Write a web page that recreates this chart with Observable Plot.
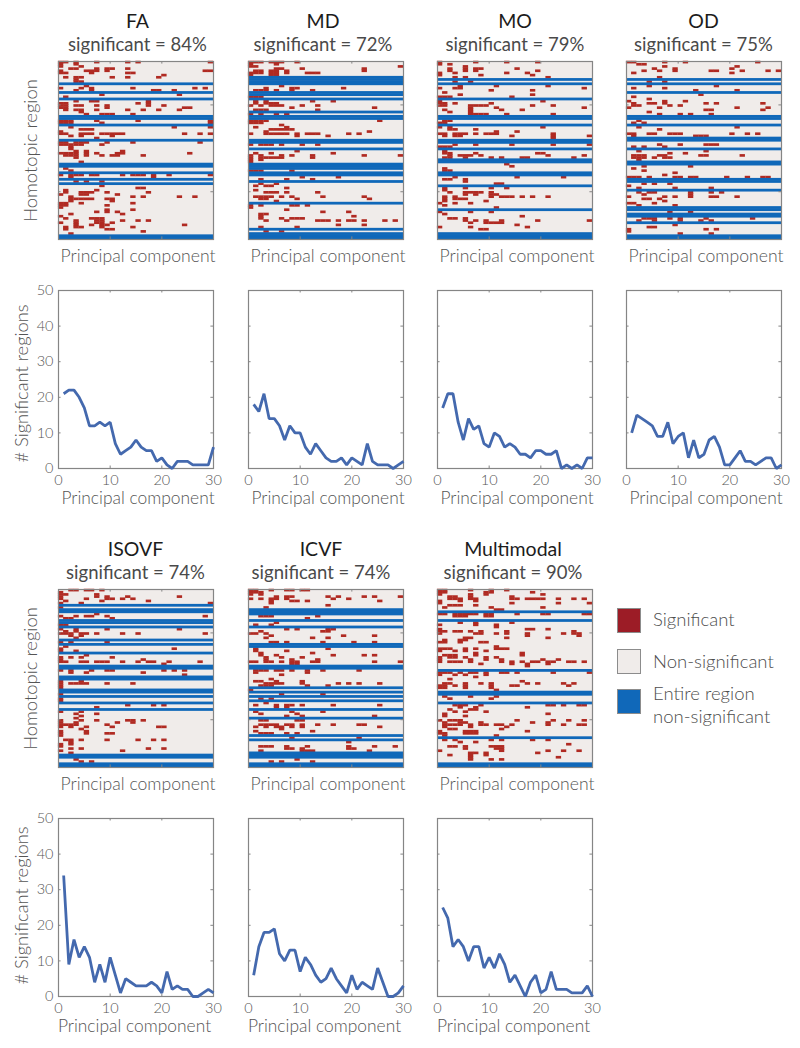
<!DOCTYPE html>
<html>
<head>
<meta charset="utf-8">
<script src="https://cdn.jsdelivr.net/npm/d3@7"></script>
<script src="https://cdn.jsdelivr.net/npm/@observablehq/plot@0.6"></script>
<style>
html,body{margin:0;padding:0;background:#fff}
#page{position:relative;width:800px;height:1048px;overflow:hidden;font-family:Lato,"Noto Sans",sans-serif;font-weight:300;color:#555}
#page svg{position:absolute;overflow:visible;background:transparent}
.ttl{position:absolute;width:200px;text-align:center;line-height:1}
.ttl .a{font-size:19.5px;font-weight:400;color:#1c1c1c;display:block;height:24px}
.ttl .b{font-size:18.5px;font-weight:400;color:#4a4a4a;display:block}
.sw{position:absolute;left:617px;width:22px;height:23px;border:1px solid #8c8c8c;box-sizing:content-box}
.lg{position:absolute;left:653px;font-size:18.5px;font-weight:300;line-height:1;color:#4d4d4d;white-space:nowrap}
</style>
</head>
<body>
<div id="page"></div>
<script>
const nRows = 82, nCols = 30;
const components = d3.range(1, 31);

// Each row entry: [region row, then the significant component columns]
const faBlue = [10,14,17,25,26,29,36,47,48,51,54,56,80,81];
const faSig = [[0,0,1,3,7,13,15,29],[1,0,3],[2,0,4],[3,2,3,7,9,10,13],[4,0,5,6,7,9,28,29],[5,0,1,6,13,14],[6,20],[7,1,3,4,10,13,19],[8,3],[9,3,4],[11,5],[12,0,4,6,14,26,28],[13,3,6,18,19,22],[15,8,23],[16,1],[18,3,6,7,17],[19,0,1,15,17],[20,0,1,3,4,7,9,17,20],[21,0,1,9,24,25],[22,1,3,4,7,13,16,19,23],[23,4],[24,5,8,9,10,14],[27,0,1,2,7,15,29],[28,0,1,2,8,29],[30,2,22,29],[31,4,5,6],[32,0],[33,0,1,4,5,6,8,9,10,11,12,24,27,29],[34,2,4,10],[35,7],[37,0,1,3,4,5,9,14,27],[38,0,1,2,3,4,8],[39,2],[40,2],[41,3,5,12],[42,0,1,2,3,5,7,11,12,25],[43,1,2,3,5,8,10,11,16],[44,3],[46,4],[49,1],[50,2],[52,0,2,3,4,6,7,12,14,15,16,18,21,29],[53,2,18],[55,3,5,8],[57,8],[58,15,16],[59,1,7],[60,1,4,5,6,9,17],[61,0,4,5,11],[62,2,14,16,23,26],[63,2,3,4,5,6,9,10],[64,2,10],[65,0,1,4,14],[66,0,1,9],[67,0],[68,9,14],[69,7,9,11],[70,2,12],[71,0],[72,1,6,7,8],[73,3,7,8,12,15,17],[74,0,3,7,8,10],[75,3,6,8,9,24],[76,1,3,4,8,14],[77,1,9,10],[78,16],[79,2]];

const mdBlue = [7,8,9,10,14,15,17,23,25,26,36,37,40,47,48,49,51,52,55,65,77,79,80,81];
const mdSig = [[0,0,1,2,4,5,6,9],[1,0,5],[2,0,1,29],[3,5,6,10,22],[4,1,2,4,5,7,22],[5,0,1,2,4,5,7,11,12,13],[6,0,4,5],[11,6],[12,3,8,9,18],[13,1,2,3,5,8,12],[16,0,1,2],[18,1,3,12,16],[19,1,3,4,5],[20,0,2,4,5,6,10,13],[21,8,24],[22,1,2,3,13],[24,0,2,5,7],[27,0,1,2,3,25],[28,0,1,2],[29,6],[30,1,7],[31,4,5,6,7,8],[32,3,23],[33,0,3,4,5,6,7,9,11,12,13,19,21],[34,9,15],[38,0,2,3,4,6,10,13],[41,9],[42,1,4,16],[43,0,2,6,8,12,22,29],[44,0,2,3,4,5,6,12],[45,0,2],[46,0],[50,0,1,2,8],[53,10,17],[54,2,7,12],[56,2,5],[57,1,3,4],[58,7],[59,1],[60,3,4,5,7,13],[62,1,2,3,4,6,8,14,22],[63,2,3,9,23],[64,5],[66,0,2,8,9,11],[67,0],[68,7],[69,14,19],[70,2,3],[71,2,20],[72,2,6,8,9,10],[73,3,7,13,14,15,17,19,20,22,26,28],[75,17,22],[76,2,9],[78,3,6]];

const moBlue = [8,10,17,25,26,29,36,37,40,45,46,51,52,57,68,79,80,81];
const moSig = [[0,0,7,13,19],[1,0,2],[2,5],[3,2,5,7,8,15],[4,2,5,7,19],[5,0,3,13,17],[6,0,8,18],[7,3,5,21],[9,3,6],[11,4,11,21],[12,0,3,4,28],[13,10,18],[14,1],[15,4,18],[16,0,1,2,14],[18,0,20],[19,0,1,3,10],[20,0,1,6,7,8,9,18,22],[21,6,11,28],[22,1,6,12,16],[23,2,6],[24,6,7,8,9,13,22],[27,1,2],[28,0,1],[30,0,2,20],[31,2,3,7],[32,11,15],[33,0,1,3,4,5,7,9,10,11,22],[34,1,3,4,14,22,29],[35,22],[38,3,7,14,22,29],[39,0,1,2],[41,1],[42,1,2,7,19,20],[43,2,4,5,6,8,21,28],[44,1,2,5,10,12,16,17,26],[47,13],[48,14],[49,1],[50,1,2],[53,3,15,24],[54,1,2,5],[55,5],[56,11,12],[58,1,5,10,13],[59,1],[60,2,5,6,7,8,10],[61,5,7,10,11],[62,1,3,10,12,13,14,16,18,21],[63,1,3,4,5],[64,1,9],[65,0,3,6],[66,1],[67,11],[69,0,6,10],[70,1],[71,16],[72,2,3,5],[73,5,7,9,12,19,29],[74,6,9,10,11,12],[75,15],[76,0,6,17],[77,8,9]];

const odBlue = [8,10,14,25,26,29,35,36,40,46,47,54,55,59,67,68,70,71,74,80,81];
const odSig = [[0,0,1,7,11,25],[1,2,3],[2,7,21],[3,5,9,20],[4,3,6,9,16,17,22,27,29],[5,1,20],[7,6],[9,4,7],[11,4,17],[12,1,7],[13,13,21],[15,14],[16,1],[17,4],[18,0,7,11],[19,1,4,5,7,15,17,26],[20,1,2,8,10],[21,0,6,21,27],[22,15,16,26],[23,4],[24,6,10,12,16],[27,2],[28,1,3],[30,2,21],[31,6],[33,0,1,4,5,8,9,10,20,23,25],[34,1,13,14,15],[38,6,10,15,16,17],[39,1,3,7],[41,2,15],[42,8,11],[43,1,2,3,6,7,14,15,22],[44,1,2,3,5,7,8],[45,2],[48,3,12],[49,1],[50,3],[51,9],[52,7],[53,0,1,2,4,9,10,12,13,19,23,26,27],[56,3,5,8],[57,0],[58,2,9,16],[60,2,4,5,12,16,18],[61,3,12],[62,0,7,9,12,16,17,21],[63,3,4,6],[64,7],[65,0,1,5],[66,2,9],[69,8,12],[72,3,4,5,8,10,15,24],[73,2,5,10,14,16],[75,9],[76,4,5],[77,0,15,17],[78,0],[79,10,16]];

const isovfBlue = [7,9,10,14,15,17,23,25,29,35,36,40,41,46,47,49,52,55,76,77,80,81];
const isovfSig = [[0,2,3,5,6,8],[1,0],[2,0,1,7],[3,0,7,9,13,23],[4,0,5,9,10,12,14],[5,1,8,17],[6,0,4,29],[8,0],[11,7],[12,0,3,5,6,9,28],[13,1,2,10],[16,0,1],[18,0,3,9,23],[19,1,3],[20,0,1,2,4,5,7,12,15,28],[21,2,4],[22,3],[24,0,2,9],[26,1],[27,0,22],[28,0,3],[30,5],[31,0,2,4,10],[32,0,16],[33,0,1,4,5,7,8,9,12,15,17,18,21,27],[34,20],[37,0,2,6,9,10,20,22,24],[38,2,5,16],[39,24],[42,0,4],[43,0,2,3,4,5,9,14],[44,0],[45,0],[48,0],[50,0],[51,0],[53,13,18,20],[54,7],[56,0,4],[57,3,7],[58,4],[59,3],[60,0,4,7,13,14,16],[61,0,3,11,14],[62,0,1,2,3,9],[63,0,2,5,10,19,20],[64,4],[65,0,5],[66,0,5,9,10],[67,0],[69,1,2,4,9,15,18,20],[70,2],[71,0,2],[72,0],[73,2,4,17,20],[74,0,12],[75,2],[78,3],[79,4,6]];

const icvfBlue = [9,10,11,14,17,25,26,35,36,45,47,49,51,55,59,67,69,75,76,77,80,81];
const icvfSig = [[0,0,1,4,7,8,10,11],[1,0,1,2],[2,0,2],[3,5,7,8,15,17,22,24,29],[4,0,2,4,5,7,16,19],[5,4,8,9,11,25],[6,4],[7,15],[8,3],[12,2,3,4,13],[13,11],[15,5],[16,1,4],[18,7,9,15,16],[19,2,14,15],[20,0,1,3],[21,4,18,24],[22,3,12,15],[24,4,5,7,14,20,24],[27,1,15],[28,1,7],[29,2,12],[30,2,5,16,22,24],[31,3,6,10],[32,3,8,13],[33,0,1,3,4,6,8,9,12,13,24,29],[34,8,9],[37,1,2,3,5,6,8,11,14,21],[38,1,11],[39,6],[41,4],[42,1,2,5,10],[43,3,4,5,6,10,17,19,21,25],[44,2,3,4,11,15],[46,0],[48,6,14],[50,2,4],[52,3],[53,1,5,7,8,10,16,25],[54,5,7],[56,1,8,14],[57,2,9],[58,7,10,24],[60,2,3,9,10],[62,2,3,4,5,7,8,10,13,16,21,22],[63,1,3,5,6,8,10,25],[64,6],[65,1,12],[66,2,3,4,7,9],[68,8,21],[70,19],[72,2,3,4,7,11,19,24,28],[73,7,8,10,19,20],[74,2,10,11,12,23],[78,9],[79,4,6,12]];

const multiBlue = [10,14,37,47,48,52,68,80,81];
const multiSig = [[0,0,1,6,10,13],[1,0,1,9,10,18],[2,0,6,9,20],[3,2,3,6,14],[4,2,3,4,6,7,14,15,17,18,19,20,23,26,28],[5,0,4,7],[6,0,14,23,29],[7,2,3,4,7],[8,1,10,20],[9,11,12],[11,0,1,3,4,5,6,7,9,10,15,20,21,28,29],[12,3,4,5,9,10],[15,4,7,14],[16,0,7,11],[17,11],[18,0,17,18,21],[19,0,1,3,4,6,8,13,26],[20,0,7,8,11,13,17,24,26,27],[21,17,27],[22,5,6,13,21],[23,1,4,5],[24,0,1,4,8,9],[26,11],[27,0,1,2,5,7,11,12,13],[28,0,3,5,9],[29,7,16],[30,1,2,3,7,16],[31,0,2,3,5,9,11],[32,0,6,9,12,20,23],[33,0,2,3,4,6,12,14,16,18,19,21,22,25,26,28],[34,8,14,17,21],[35,17],[38,0,1,2,4,6,7,9,12,13,15,22,29],[39,0,3,5,9],[40,7],[41,2],[42,16],[43,1,2,5,8,10,17,19,24,26],[44,0,1,3,5,10,14,15,25],[45,0,1,5,10],[46,11],[49,1,6,11],[50,2,10],[53,3,4,5,8,21,22,24,27,28],[54,4,7,17],[55,2,6,7],[56,3,5,9],[57,1,21],[58,1,5],[60,0,2,3,4,15,22,25,28],[61,1,4,5,8,18,21],[62,1,2,3,4,6,8,9,11,12,14,21,24,27,28],[63,1,6,13],[64,2,3,12],[65,0,5,6,7,17],[66,0,1,5,6,7],[67,1,11],[69,1,3,10,12,18,21],[70,4,7],[71,25],[72,2,3,5,10,11,12],[73,5,11,12],[74,0,12,21,24,27],[75,6,7,9,19],[76,2,6,9],[77,6,23],[78,6,10,12]];

const faCount = [21,22,22,20,17,12,12,13,12,13,7,4,5,6,8,6,5,5,2,3,1,0,2,2,2,1,1,1,1,6];
const mdCount = [18,16,21,14,14,12,8,12,10,10,6,4,7,5,3,2,2,3,1,3,2,1,7,2,1,1,1,0,1,2];
const moCount = [17,21,21,13,8,14,11,12,7,6,10,9,6,7,6,4,4,3,5,5,4,4,5,0,1,0,1,0,3,3];
const odCount = [10,15,14,13,12,9,9,13,7,9,10,3,8,3,4,8,9,6,1,1,3,5,2,2,1,2,3,3,0,1];
const isovfCount = [34,9,16,11,14,11,4,9,4,11,6,1,5,4,3,3,3,4,3,1,7,2,3,2,2,0,0,1,2,1];
const icvfCount = [6,14,18,18,19,12,10,13,13,7,11,9,6,4,5,8,5,3,1,6,2,4,3,2,8,4,0,0,1,3];
const multiCount = [25,22,14,16,14,10,14,14,8,11,8,12,9,4,6,3,0,4,6,1,2,7,2,2,2,1,1,1,3,0];

const titles = ["FA","MD","MO","OD","ISOVF","ICVF","Multimodal"];
const percents = [84,72,79,75,74,74,90];
const blues = [faBlue,mdBlue,moBlue,odBlue,isovfBlue,icvfBlue,multiBlue];
const sigs = [faSig,mdSig,moSig,odSig,isovfSig,icvfSig,multiSig];
const counts = [faCount,mdCount,moCount,odCount,isovfCount,icvfCount,multiCount];
const xTicks = [0,10,20,30];
const yTicks = [0,10,20,30,40,50];
const legendLabels = ["Significant","Non-significant"];
const legendLabel3 = ["Entire region","non-significant"];

const RED = "#b02a22", BLUE = "#1068b9", BG = "#f0ecea", FRAME = "#858585", INK = "#555";
const FONT = "Lato, 'Noto Sans', sans-serif";
const panelX = [58,247.5,436.5,626,58,247.5,436.5];
const titleDx = [2,-2,1,0,0,-4,-1];
const heatTop = [60.5,60.5,60.5,60.5,588.5,588.5,588.5];
const lineTop = [289.5,289.5,289.5,289.5,817.5,817.5,817.5];
const PW = 155, HH = 178, ML = 58, MR = 14;
const page = document.getElementById("page");

function place(svg, x, y){ svg.style.left = (x-ML)+"px"; svg.style.top = y+"px"; page.appendChild(svg); }

function heatmap(i){
  const sigCells = sigs[i].flatMap(([r,...cols]) => cols.map(c => ({r,c})));
  const xt = [10,20], yt = [20,60];
  const marks = [
    Plot.frame({fill:BG, stroke:null}),
    Plot.rect(sigCells,{x1:d=>d.c,x2:d=>d.c+1,y1:d=>d.r,y2:d=>d.r+1,fill:RED,insetTop:-0.25,insetBottom:-0.25,insetLeft:-0.1,insetRight:-0.1}),
    Plot.rect(blues[i],{x1:0,x2:nCols,y1:d=>d,y2:d=>d+1,fill:BLUE,insetTop:-0.3,insetBottom:-0.3}),
    Plot.ruleX(xt,{y1:0,y2:1.2,stroke:FRAME}),
    Plot.ruleX(xt,{y1:nRows-1.2,y2:nRows,stroke:FRAME}),
    Plot.ruleY(yt,{x1:0,x2:0.5,stroke:FRAME}),
    Plot.ruleY(yt,{x1:nCols-0.5,x2:nCols,stroke:FRAME}),
    Plot.frame({stroke:FRAME,strokeWidth:1.2}),
    Plot.text(["Principal component"],{frameAnchor:"bottom",textAnchor:"middle",lineAnchor:"middle",dy:16.5,dx:2,fontSize:17.6,fill:INK})
  ];
  if (i===0||i===4) marks.push(Plot.text(["Homotopic region"],{frameAnchor:"left",textAnchor:"middle",lineAnchor:"middle",rotate:-90,dx:-27,fontSize:18.4,fill:INK}));
  const svg = Plot.plot({
    width:PW+ML+MR,height:HH+4+36,marginLeft:ML,marginRight:MR,marginTop:4,marginBottom:36,
    style:{fontFamily:FONT,background:"transparent"},
    x:{domain:[0,nCols],axis:null},
    y:{domain:[nRows,0],axis:null},
    marks
  });
  place(svg,panelX[i],heatTop[i]-4);
}

function linePlot(i){
  const rows = components.map((pc,k)=>({pc,v:counts[i][k]}));
  const first = i===0||i===4;
  const marks = [
    Plot.ruleX([10,20],{y1:0,y2:0.7,stroke:FRAME}),
    Plot.ruleX([10,20],{y1:49.3,y2:50,stroke:FRAME}),
    Plot.ruleY([10,20,30,40],{x1:0,x2:0.5,stroke:FRAME}),
    Plot.ruleY([10,20,30,40],{x1:29.5,x2:30,stroke:FRAME}),
    Plot.frame({stroke:FRAME,strokeWidth:1.2}),
    Plot.axisX(xTicks,{anchor:"bottom",tickSize:0,tickPadding:6,fontSize:14.5,fill:INK,label:null,tickFormat:d=>String(d)}),
    Plot.line(rows,{x:"pc",y:"v",stroke:"#4469ae",strokeWidth:2.8,strokeLinejoin:"miter",strokeLinecap:"butt"}),
    Plot.text(["Principal component"],{frameAnchor:"bottom",textAnchor:"middle",lineAnchor:"middle",dy:30,dx:i<4?2:-1.5,fontSize:17.4,fill:INK})
  ];
  if (first){
    marks.push(Plot.axisY(yTicks,{anchor:"left",tickSize:0,tickPadding:5,fontSize:14.5,fill:INK,label:null,tickFormat:d=>String(d)}));
    marks.push(Plot.text(["# Significant regions"],{frameAnchor:"left",textAnchor:"middle",lineAnchor:"middle",rotate:-90,dx:-36,dy:i<4?4:-2,fontSize:18.3,fill:INK}));
  }
  const svg = Plot.plot({
    width:PW+ML+MR,height:HH+10+46,marginLeft:ML,marginRight:MR,marginTop:10,marginBottom:46,
    style:{fontFamily:FONT,background:"transparent"},
    x:{domain:[0,30],axis:null},
    y:{domain:[0,50],axis:null},
    marks
  });
  place(svg,panelX[i],lineTop[i]-10);
}

titles.forEach((t,i)=>{
  heatmap(i); linePlot(i);
  const d = document.createElement("div");
  d.className="ttl";
  d.style.left=(panelX[i]+PW/2-100+titleDx[i])+"px";
  d.style.top=(heatTop[i]-50)+"px";
  d.innerHTML=`<span class="a">${t}</span><span class="b">significant = ${percents[i]}%</span>`;
  page.appendChild(d);
});

[["#9c1c26",608],[BG,649],[BLUE,689]].forEach(([c,y])=>{
  const s=document.createElement("div");s.className="sw";s.style.top=y+"px";s.style.background=c;page.appendChild(s);
});
[[legendLabels[0],610],[legendLabels[1],652],[legendLabel3[0],684],[legendLabel3[1],707]].forEach(([t,y])=>{
  const s=document.createElement("div");s.className="lg";s.style.top=y+"px";s.textContent=t;page.appendChild(s);
});
</script>
</body>
</html>
